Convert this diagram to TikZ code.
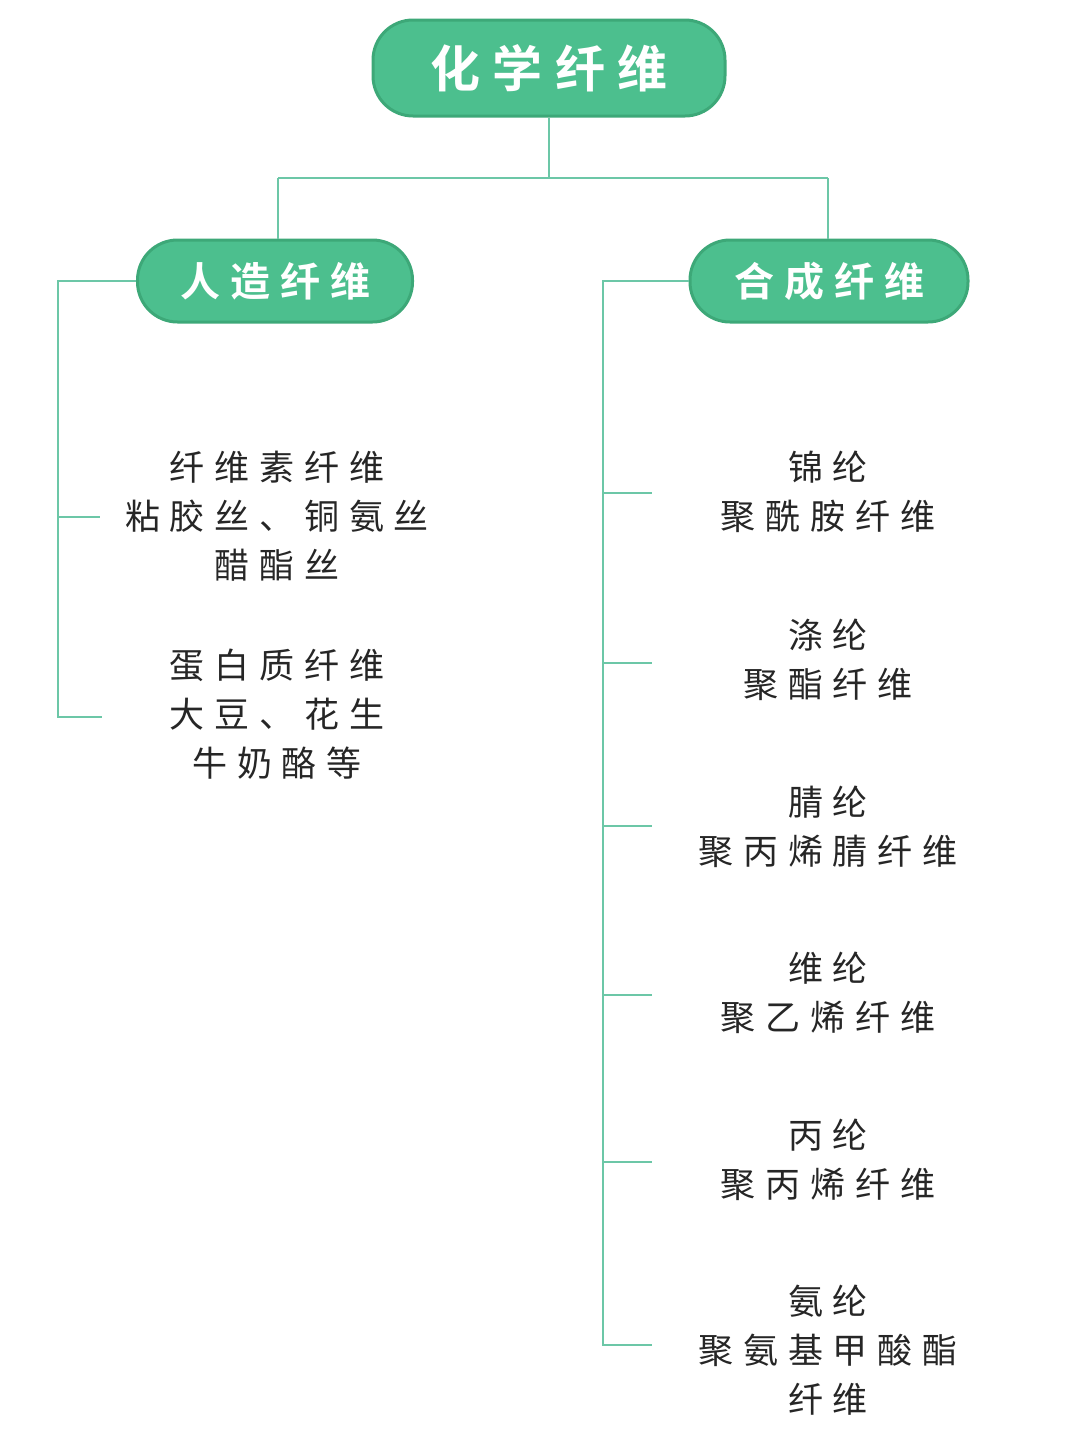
\documentclass[tikz,border=0pt]{standalone}
\usepackage{fontspec}
\newfontfamily\cjk[LetterSpace=28]{Noto Sans CJK SC}
\newfontfamily\cjkb[LetterSpace=25]{Noto Sans CJK SC Bold}
\definecolor{gfill}{HTML}{4CBF8E}
\definecolor{gedge}{HTML}{3DA878}
\definecolor{gline}{HTML}{6CC7A7}
\begin{document}
\begin{tikzpicture}[x=1pt,y=-1pt,
  head/.style={rounded corners=40pt,fill=gfill,draw=gedge,line width=3pt,text=white,font=\cjkb\fontsize{40}{44}\selectfont,inner sep=0pt},
  lab/.style={align=center,font=\cjk\fontsize{35}{49}\selectfont,text=black!85},
  conn/.style={draw=gline,line width=2pt}]
\useasboundingbox (0,0) rectangle (1080,1440);
\node[head,minimum width=352pt,minimum height=96pt,font=\cjkb\fontsize{50}{54}\selectfont] (root) at (549,68) {化学纤维};
\node[head,minimum width=275pt,minimum height=82pt] (L) at (275,281) {人造纤维};
\node[head,minimum width=278pt,minimum height=82pt] (R) at (829,281) {合成纤维};
\coordinate (j) at (549,178);
\draw[conn] (root.south) -- (j) (278,178) -- (828,178) (278,178) -- (L.north-|278,0) (828,178) -- (R.north-|828,0);
\draw[conn] (L.west) -- (58,281) -- (58,717) -- (102,717) (58,517) -- (100,517);
\draw[conn] (R.west) -- (603,281) -- (603,1345) -- (652,1345);
\foreach \y in {493,663,826,995,1162} \draw[conn] (603,\y) -- (652,\y);
\node[lab] (l1) at (277,516) {纤维素纤维\\粘胶丝、铜氨丝\\醋酯丝};
\node[lab] (l2) at (277,714) {蛋白质纤维\\大豆、花生\\牛奶酪等};
\node[lab] (r1) at (828,492) {锦纶\\聚酰胺纤维};
\node[lab] (r2) at (828,660) {涤纶\\聚酯纤维};
\node[lab] (r3) at (828,827) {腈纶\\聚丙烯腈纤维};
\node[lab] (r4) at (828,993) {维纶\\聚乙烯纤维};
\node[lab] (r5) at (828,1160) {丙纶\\聚丙烯纤维};
\node[lab] (r6) at (828,1350) {氨纶\\聚氨基甲酸酯\\纤维};
\end{tikzpicture}
\end{document}
